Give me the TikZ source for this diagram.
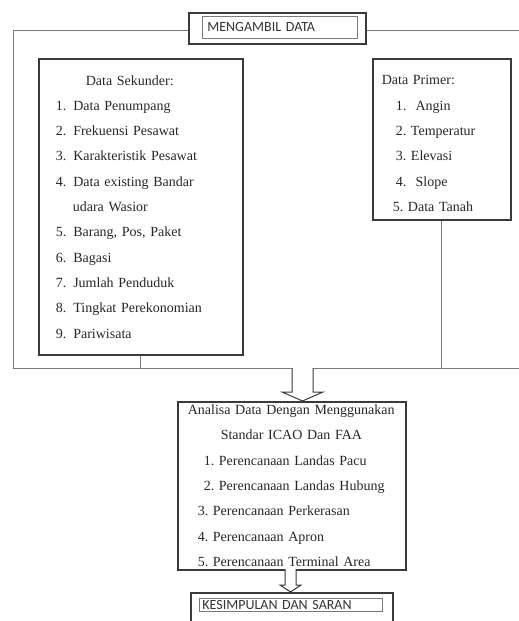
\documentclass[tikz,border=0pt]{standalone}
\usepackage{fontspec}
\setmainfont{Liberation Serif}
\newfontfamily\judulfont{Carlito}
\usetikzlibrary{positioning}
\definecolor{garis}{HTML}{3A3A3A}
\definecolor{bingkai}{HTML}{7A7A7A}

\tikzset{
  kotak/.style={draw=garis,line width=1.6pt,inner sep=0pt},
  kotakdalam/.style={draw=bingkai,line width=0.8pt,inner ysep=0pt,align=left,
    font=\judulfont\fontsize{14}{16}\selectfont,text=black!80},
  isi/.style={font=\fontsize{14}{25.3}\selectfont,align=left,text=black!85},
  bingkaigaris/.style={draw=bingkai,line width=1pt},
  panah/.style={draw=garis,line width=1pt,fill=white,line join=miter}
}

\begin{document}
\begin{tikzpicture}[x=1pt,y=-1pt]
\useasboundingbox (0,0) rectangle (519,621);

% kotak mengambil data
\node[kotak,anchor=north west,minimum width=177pt,minimum height=31pt] (ambil) at (188,12) {};
\node[kotakdalam,anchor=north west,minimum width=153pt,minimum height=22pt,
  text width=145pt,inner xsep=5pt] (ambilisi) at (202,16) {MENGAMBIL DATA};

% bingkai luar
\coordinate (bka) at (13,30);
\coordinate (bkb) at (13,368);
\draw[bingkaigaris] (ambil.west |- bka) -- (bka) -- (bkb) -- ++(515,0);
\draw[bingkaigaris] (ambil.east |- bka) -- ++(160,0);

% data sekunder dan primer
\node[kotak,isi,anchor=north west,minimum width=204pt,minimum height=296pt,
  text width=170pt,inner xsep=17pt] (sekunder) at (38,58) {%
  \hspace*{30pt}Data Sekunder:\\
  1. Data Penumpang\\
  2. Frekuensi Pesawat\\
  3. Karakteristik Pesawat\\
  4. Data existing Bandar\\
  \hspace*{17pt}udara Wasior\\
  5. Barang, Pos, Paket\\
  6. Bagasi\\
  7. Jumlah Penduduk\\
  8. Tingkat Perekonomian\\
  9. Pariwisata};
\node[kotak,isi,anchor=north west,minimum width=138pt,minimum height=161pt,
  text width=120pt,inner xsep=9pt] (primer) at (372,58) {%
  \rule{0pt}{18pt}Data Primer:\\
  \hspace*{14pt}1.~~Angin\\
  \hspace*{14pt}2.~Temperatur\\
  \hspace*{14pt}3.~Elevasi\\
  \hspace*{14pt}4.~~Slope\\
  \hspace*{11pt}5.~Data Tanah};
\draw[bingkaigaris] (sekunder.south) -- (sekunder.south |- bkb);
\draw[bingkaigaris] (primer.south) -- (primer.south |- bkb);

% analisa
\node[kotak,isi,anchor=north west,minimum width=228pt,minimum height=168pt,
  text width=208pt,inner xsep=10pt] (analisa) at (177,401) {%
  Analisa Data Dengan Menggunakan\\
  \hspace*{33pt}Standar ICAO Dan FAA\\
  \hspace*{16pt}1.~Perencanaan Landas Pacu\\
  \hspace*{16pt}2.~Perencanaan Landas Hubung\\
  \hspace*{10pt}3.~Perencanaan Perkerasan\\
  \hspace*{10pt}4.~Perencanaan Apron\\
  \hspace*{10pt}5.~Perencanaan Terminal Area};
\draw[panah] (292,368) -- (292,392) -- (282,392) -- (302.5,401) -- (323,392) -- (313,392) -- (313,368);

% kesimpulan
\node[kotak,anchor=north west,minimum width=202pt,minimum height=40pt] (simpul) at (190,592) {};
\node[kotakdalam,anchor=north west,minimum width=183pt,minimum height=13pt,
  text width=177pt,inner xsep=3pt] (simpulisi) at (199,598) {KESIMPULAN DAN SARAN};
\draw[panah] (285,569) -- (285,585) -- (280,585) -- (290.5,592) -- (301,585) -- (296,585) -- (296,569);
\end{tikzpicture}
\end{document}
